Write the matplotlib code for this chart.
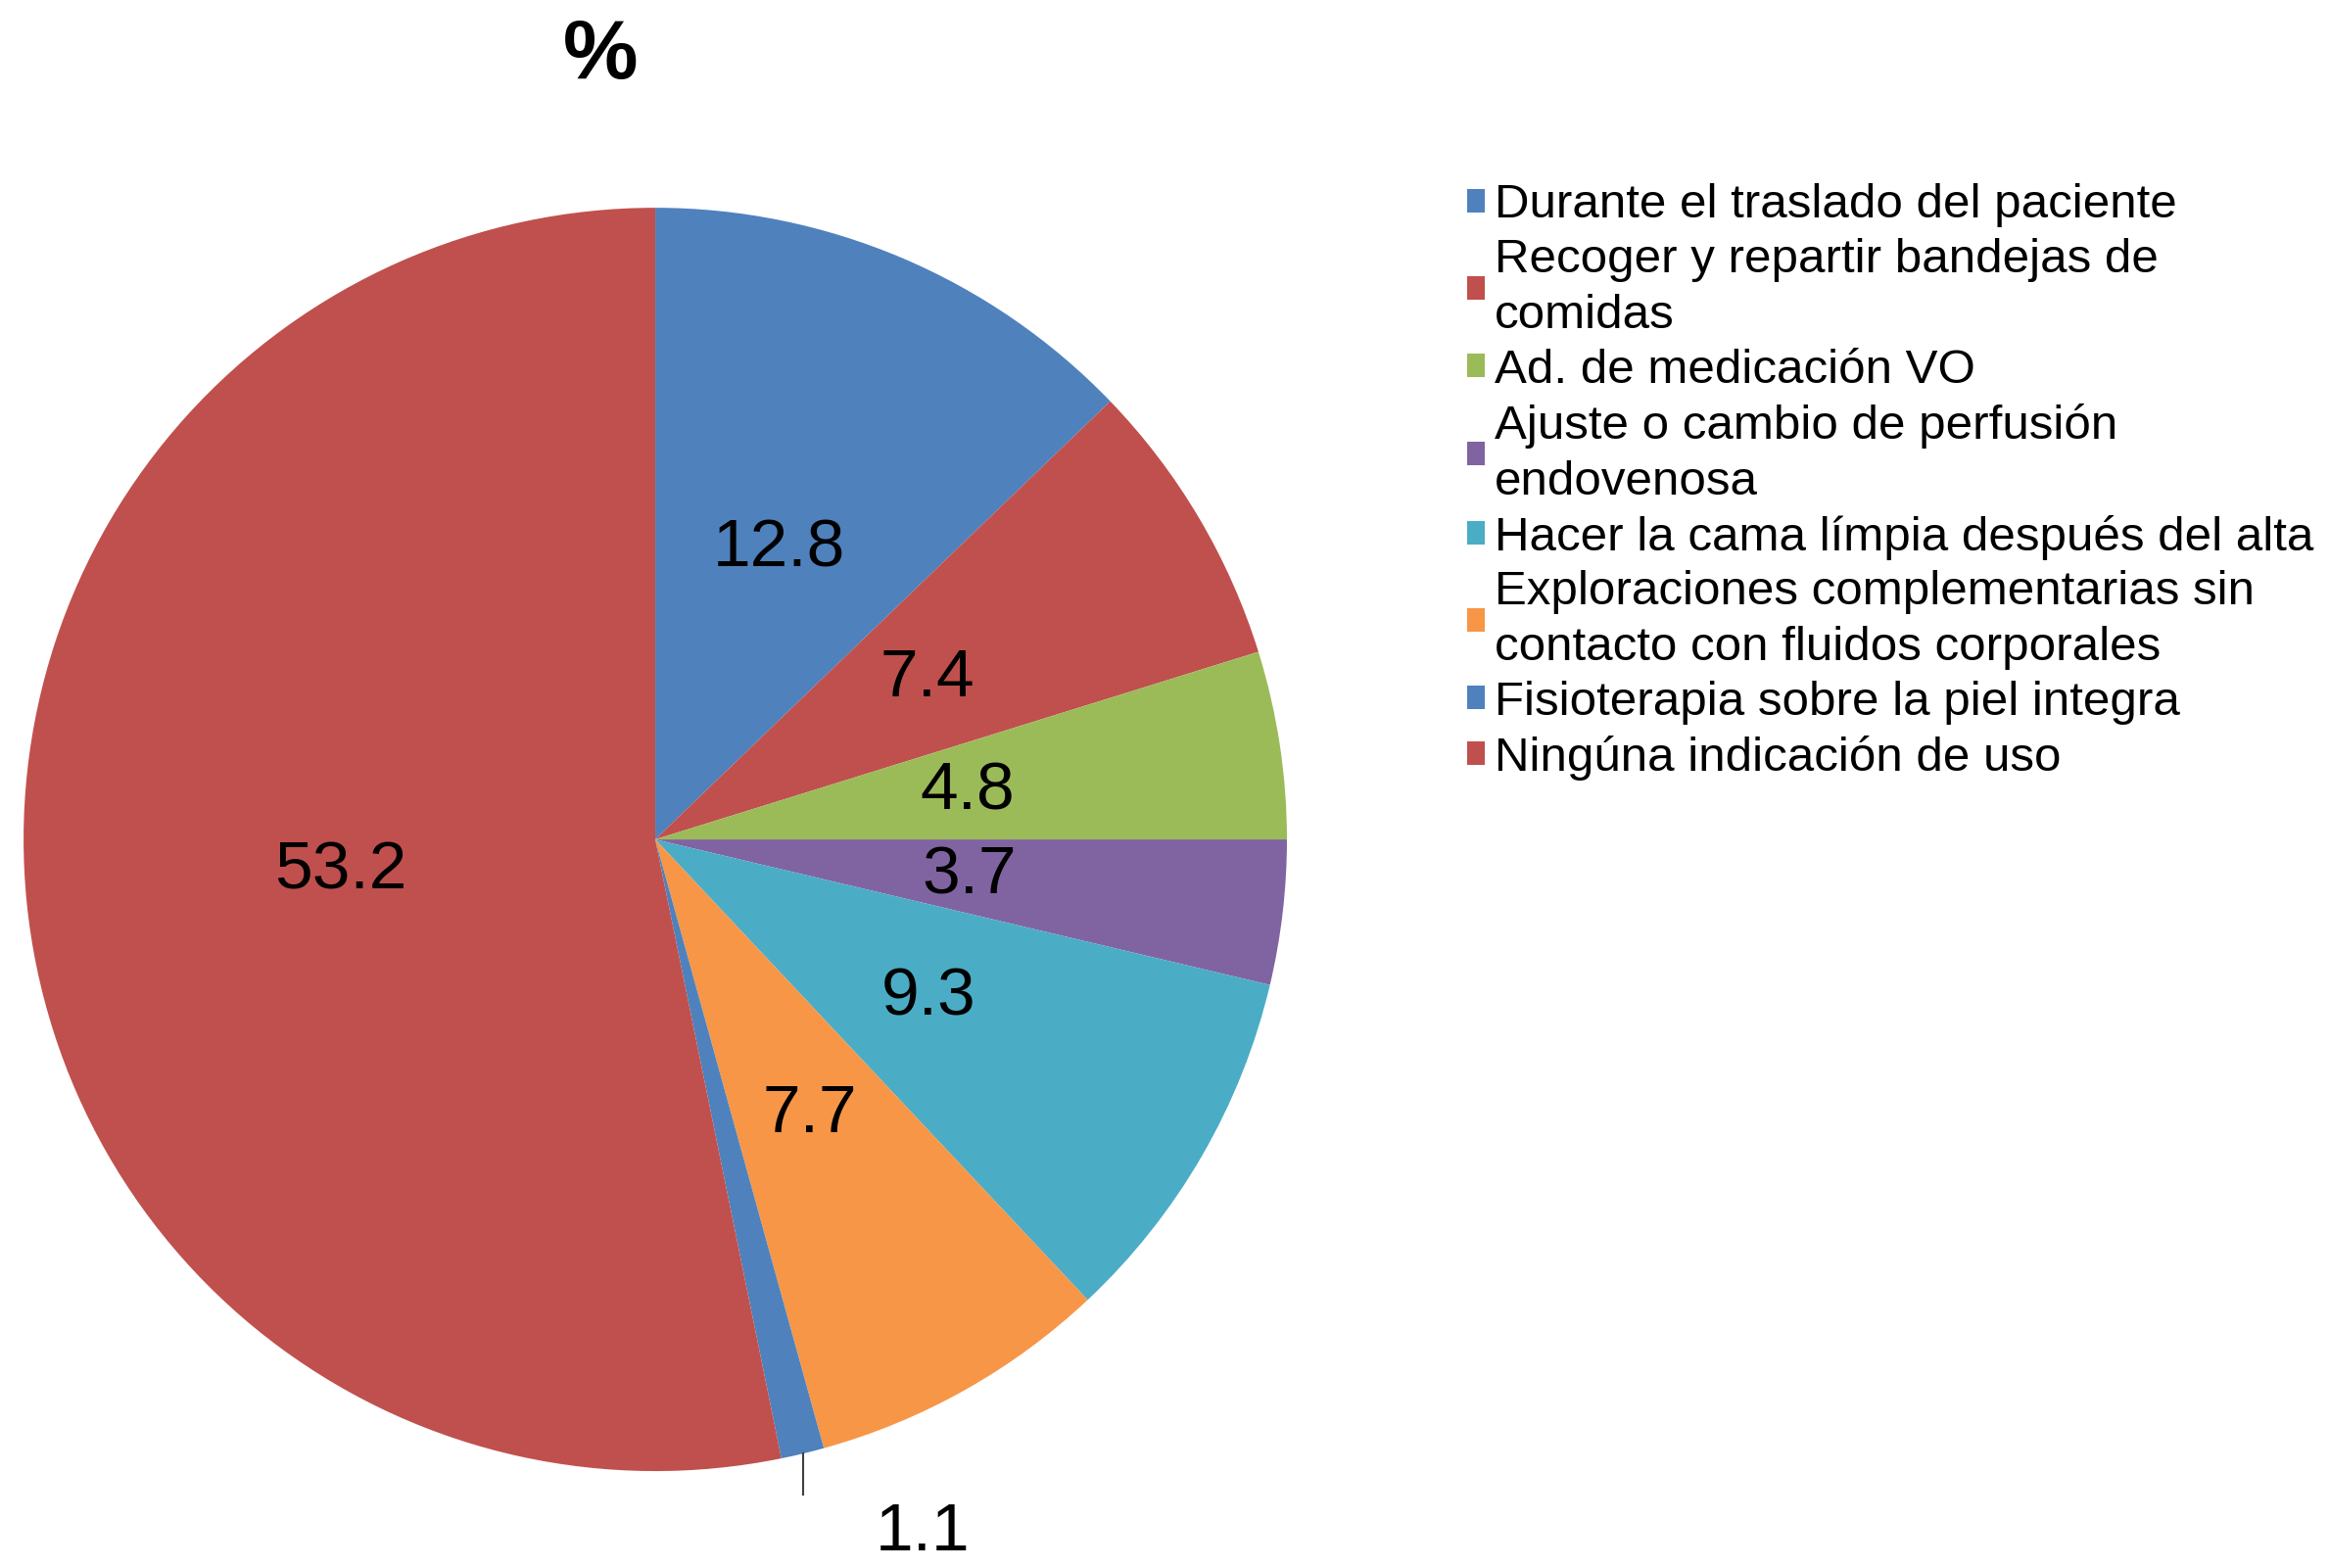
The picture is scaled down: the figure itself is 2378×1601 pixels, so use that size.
import numpy as np
import matplotlib.pyplot as plt

plt.rcParams['font.family'] = ['Liberation Sans', 'DejaVu Sans']

# data
labels = ['Durante el traslado del paciente',
          'Recoger y repartir bandejas de\ncomidas',
          'Ad. de medicación VO',
          'Ajuste o cambio de perfusión\nendovenosa',
          'Hacer la cama límpia después del alta',
          'Exploraciones complementarias sin\ncontacto con fluidos corporales',
          'Fisioterapia sobre la piel integra',
          'Ningúna indicación de uso']
values = [12.8, 7.4, 4.8, 3.7, 9.3, 7.7, 1.1, 53.2]
colors = ['#4F81BD', '#C0504D', '#9BBB59', '#8064A2',
          '#4BACC6', '#F79646', '#4F81BD', '#C0504D']

fig = plt.figure(figsize=(23.78, 16.01), dpi=100)
ax = fig.add_axes([0.0101, 0.0618, 0.5425, 0.8057])

wedges, texts = ax.pie(values, colors=colors, startangle=90, counterclock=False,
                       labels=[f'{v:.1f}' for v in values], labeldistance=0.5,
                       textprops=dict(fontsize=50, ha='center', va='center'),
                       wedgeprops=dict(linewidth=0))
ax.set_xlim(-1, 1)
ax.set_ylim(-1, 1)
ax.set_aspect('equal')

# small slice: label outside with leader line
small = 6
texts[small].set_visible(False)
w = wedges[small]
ang = np.deg2rad((w.theta1 + w.theta2) / 2)
x0, y0 = np.cos(ang), np.sin(ang)
ax.plot([x0, x0], [y0, y0 - 0.065], color='#404040', lw=1.5, clip_on=False)
ax.text(x0 + 0.19, y0 - 0.125, f'{values[small]:.1f}', fontsize=50,
        ha='center', va='center', clip_on=False)

fig.text(0.258, 0.964, '%', fontsize=62, fontweight='bold', ha='center', va='center')

leg = fig.legend(wedges, labels, loc='upper left', bbox_to_anchor=(0.630, 0.883),
                 frameon=False, fontsize=35.5, handlelength=0.37, handleheight=0.37,
                 handletextpad=0.2, labelspacing=0.22, borderpad=0, borderaxespad=0)
for t in leg.get_texts():
    t.set_linespacing(1.34)

fig.savefig('out.png', dpi=100)
